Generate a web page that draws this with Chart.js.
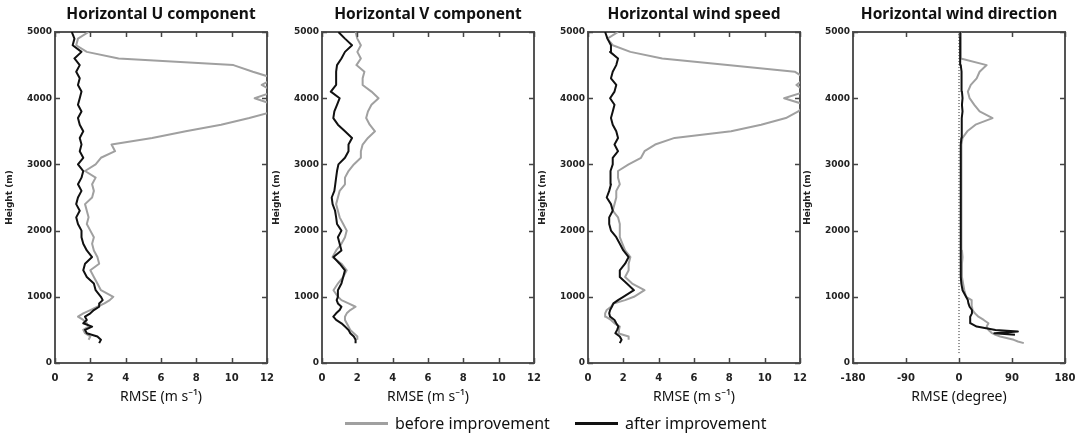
<!DOCTYPE html>
<html>
<head>
<meta charset="utf-8">
<script src="https://cdn.jsdelivr.net/npm/chart.js@4.4.0/dist/chart.umd.min.js"></script>
<style>
  html, body { margin: 0; padding: 0; background: #fff; overflow: hidden; }
  #wrap { position: relative; width: 1079px; height: 436px; overflow: hidden; }
  #wrap canvas { position: absolute; top: 0; }
  .leg { position: absolute; top: 412px; font: 16px "Noto Sans", sans-serif; color: #111; white-space: nowrap; line-height: 22px; }
  .leg .sw { display: inline-block; width: 43px; height: 3px; vertical-align: middle; margin-right: 7px; position: relative; top: -1px; }
</style>
</head>
<body>
<div id="wrap">
  <canvas id="c0" width="322" height="410" style="left:0px"></canvas>
  <canvas id="c1" width="322" height="410" style="left:267px"></canvas>
  <canvas id="c2" width="322" height="410" style="left:533px"></canvas>
  <canvas id="c3" width="322" height="410" style="left:798px"></canvas>
  <div class="leg" style="left:345px"><span class="sw" style="background:#a0a0a0"></span>before improvement</div>
  <div class="leg" style="left:575px"><span class="sw" style="background:#111"></span>after improvement</div>
</div>
<script>
// heights (m), finer steps near the ground
const heights = [300, 350, 400, 450, 500, 550, 600, 650, 700, 750, 800, 850, 900, 950,
  1000, 1100, 1200, 1300, 1400, 1500, 1600, 1700, 1800, 1900,
  2000, 2100, 2200, 2300, 2400, 2500, 2600, 2700, 2800, 2900,
  3000, 3100, 3200, 3300, 3400, 3500, 3600, 3700, 3800, 3900,
  4000, 4100, 4200, 4300, 4400, 4500, 4600, 4700, 4800, 4900, 5000];

// Horizontal U component RMSE (m/s)
const uBefore = [null, 1.9, 2.0, 1.7, 1.6, 1.9, 1.8, 1.6, 1.3, 1.6, 2.0, 2.4, 2.8, 3.1,
  3.3, 2.6, 2.4, 2.2, 2.0, 2.5, 2.4, 2.2, 2.1, 2.2,
  2.0, 1.8, 1.9, 1.8, 1.7, 2.1, 2.2, 2.1, 2.3, 1.7,
  2.3, 2.6, 3.4, 3.2, 5.5, 7.4, 9.4, 11.0, 12.4, 12.4,
  11.3, 12.4, 11.7, 12.4, 11.2, 10.1, 3.6, 1.8, 1.2, 1.3, 1.9];
const uAfter = [2.5, 2.6, 2.4, 1.8, 1.7, 2.1, 1.6, 1.8, 1.7, 2.0, 2.2, 2.5, 2.5, 2.7,
  2.6, 2.3, 2.2, 1.8, 1.6, 1.7, 2.1, 1.8, 1.6, 1.5,
  1.5, 1.3, 1.2, 1.4, 1.2, 1.3, 1.5, 1.3, 1.5, 1.6,
  1.3, 1.6, 1.4, 1.5, 1.4, 1.6, 1.4, 1.3, 1.5, 1.3,
  1.4, 1.5, 1.3, 1.4, 1.2, 1.4, 1.1, 1.5, 1.0, 1.1, 0.95];

// Horizontal V component RMSE (m/s)
const vBefore = [null, 2.0, 2.0, 1.8, 1.6, 1.5, 1.4, 1.3, 1.3, 1.4, 1.6, 1.9, 1.5, 1.1,
  0.9, 0.65, 0.9, 1.2, 1.4, 1.1, 0.6, 0.8, 1.1, 1.3,
  1.4, 1.2, 1.0, 0.9, 0.8, 0.9, 1.0, 1.3, 1.3, 1.5,
  1.8, 2.2, 2.2, 2.3, 2.6, 3.0, 2.7, 2.5, 2.6, 2.8,
  3.2, 2.8, 2.3, 2.3, 2.4, 1.95, 2.2, 2.0, 2.2, 2.0, 1.9];
const vAfter = [1.9, 1.9, 1.8, 1.6, 1.5, 1.3, 1.1, 0.8, 0.64, 0.8, 1.0, 1.1, 0.9, 0.83,
  0.9, 0.9, 1.1, 1.2, 1.3, 1.0, 0.65, 1.1, 1.0, 0.9,
  1.1, 0.85, 0.8, 0.74, 0.6, 0.55, 0.7, 0.75, 0.8, 0.85,
  0.93, 1.3, 1.5, 1.5, 1.7, 1.3, 0.9, 0.64, 0.7, 0.85,
  1.0, 0.5, 0.8, 0.8, 0.8, 0.85, 1.1, 1.3, 1.7, 1.3, 0.93];

// Horizontal wind speed RMSE (m/s)
const speedBefore = [null, 2.3, 2.3, 1.7, 1.75, 1.8, 1.5, 1.3, 1.0, 0.97, 1.06, 1.3, 1.44, 2.1,
  2.6, 3.2, 2.5, 2.1, 2.3, 2.3, 2.4, 2.1, 1.95, 1.8,
  1.8, 1.8, 1.7, 1.4, 1.5, 1.6, 1.6, 1.8, 1.7, 1.7,
  2.3, 3.0, 3.2, 3.8, 4.9, 8.1, 9.8, 11.2, 11.9, 12.3,
  11.1, 12.3, 11.8, 12.3, 11.7, 7.9, 4.2, 2.4, 1.4, 1.1, 1.7];
const speedAfter = [1.8, 1.9, 1.8, 1.55, 1.65, 1.72, 1.6, 1.5, 1.25, 1.2, 1.25, 1.35, 1.44, 1.7,
  2.0, 2.6, 2.2, 1.8, 1.8, 2.1, 2.3, 2.0, 1.8, 1.6,
  1.3, 1.2, 1.2, 1.4, 1.3, 1.06, 1.2, 1.3, 1.3, 1.25,
  1.4, 1.4, 1.7, 1.5, 1.7, 1.6, 1.4, 1.3, 1.4, 1.5,
  1.25, 1.5, 1.6, 1.3, 1.4, 1.6, 1.7, 1.25, 1.3, 1.1, 0.97];

// Horizontal wind direction RMSE (degree), own heights for the low-level detail
const dirHeights = [300, 325, 350, 400, 425, 450, 475, 500, 550, 600, 650, 700, 750, 800, 850, 900, 950,
  1000, 1100, 1200, 1300, 1400, 1500, 1600, 1700, 1800, 1900,
  2000, 2100, 2200, 2300, 2400, 2500, 2600, 2700, 2800, 2900,
  3000, 3100, 3200, 3300, 3400, 3500, 3600, 3700, 3800, 3900,
  4000, 4100, 4200, 4300, 4400, 4500, 4600, 4700, 4800, 4900, 5000];
const dirBefore = [110, 100, 93, 70, 62, 56, 53, 50, 47, 50, 42, 33, 27, 23, 22, 21, 22,
  12, 9, 7, 5, 5, 5, 6, 5, 4, 5,
  5, 4, 4, 4, 4, 4, 4, 4, 4, 4,
  4, 4, 4, 4, 6, 14, 28, 57, 35, 26,
  18, 15, 20, 30, 35, 47, 3, 3, 3, 3, 3];
const dirAfter = [null, null, null, null, 95, 60, 100, 62, 30, 20, 19, 19, 22, 22, 18, 16, 15,
  12, 6, 4, 3, 3, 3, 3, 3, 3, 3,
  3, 3, 3, 3, 3, 3, 3, 3, 3, 3,
  3, 3, 3, 3, 4, 5, 4, 5, 6, 5,
  6, 5, 4, 5, 4, 3, 2, 2, 2, 2, 2];
const zeroLineX = [0, 0];
const zeroLineH = [150, 5000];

const titles = ['Horizontal U component', 'Horizontal V component', 'Horizontal wind speed', 'Horizontal wind direction'];
const xTitles = ['RMSE (m s\u207B\u00B9)', 'RMSE (m s\u207B\u00B9)', 'RMSE (m s\u207B\u00B9)', 'RMSE (degree)'];
const xRanges = [[0, 12, 2], [0, 12, 2], [0, 12, 2], [-180, 180, 90]];

const GRAY = '#a0a0a0';
const BLACK = '#111111';
const FRAME = '#555555';

function toPoints(hs, xs) {
  const pts = [];
  hs.forEach((h, i) => { if (xs[i] !== null) pts.push({ x: xs[i], y: h }); });
  return pts;
}

function line(points, color, order, extra) {
  return Object.assign({
    data: points, showLine: true, borderColor: color, backgroundColor: color,
    borderWidth: 2, pointRadius: 0, tension: 0, clip: 0, order: order,
    borderJoinStyle: 'round', xAxisID: 'x', yAxisID: 'y'
  }, extra || {});
}

// short tick marks pointing into the plot on all four sides, taken from the scales' own ticks
const inwardTicks = {
  id: 'inwardTicks',
  afterDatasetsDraw(chart) {
    const { ctx, chartArea: a } = chart;
    const x = chart.scales.x, y = chart.scales.y;
    const len = 5;
    ctx.save();
    ctx.strokeStyle = '#444';
    ctx.lineWidth = 1.5;
    ctx.beginPath();
    x.ticks.forEach(t => {
      const px = Math.round(x.getPixelForValue(t.value)) + 0.5;
      ctx.moveTo(px, a.bottom); ctx.lineTo(px, a.bottom - len);
      ctx.moveTo(px, a.top); ctx.lineTo(px, a.top + len);
    });
    y.ticks.forEach(t => {
      const py = Math.round(y.getPixelForValue(t.value)) + 0.5;
      ctx.moveTo(a.left, py); ctx.lineTo(a.left + len, py);
      ctx.moveTo(a.right, py); ctx.lineTo(a.right - len, py);
    });
    ctx.stroke();
    ctx.restore();
  }
};

const noGrid = { drawOnChartArea: false, drawTicks: false };
const frameBorder = { display: true, color: FRAME, width: 2 };
const plainNumber = v => String(v);

const panelData = [
  [heights, uBefore, uAfter],
  [heights, vBefore, vAfter],
  [heights, speedBefore, speedAfter],
  [dirHeights, dirBefore, dirAfter]
];

panelData.forEach((p, i) => {
  const [hs, before, after] = p;
  const [xmin, xmax, xstep] = xRanges[i];
  const datasets = [
    line(toPoints(hs, after), BLACK, 1),
    line(toPoints(hs, before), GRAY, 2)
  ];
  if (i === 3) {
    datasets.push(line(toPoints(zeroLineH, zeroLineX), '#222', 3, { borderWidth: 1, borderDash: [1, 2] }));
  }
  new Chart(document.getElementById('c' + i), {
    type: 'scatter',
    data: { datasets },
    plugins: [inwardTicks],
    options: {
      responsive: false,
      animation: false,
      layout: { padding: 0 },
      plugins: {
        legend: { display: false },
        tooltip: { enabled: false },
        title: {
          display: true, text: titles[i], color: '#111',
          font: { family: 'Noto Sans', size: 15.5, weight: 'bold', lineHeight: 1.2 },
          padding: { top: 5, bottom: 8.4 }
        }
      },
      scales: {
        x: {
          type: 'linear', position: 'bottom', min: xmin, max: xmax,
          ticks: { stepSize: xstep, padding: 9, color: '#222', callback: plainNumber,
                   font: { family: 'DejaVu Sans', size: 10, weight: 'bold' } },
          grid: noGrid,
          border: frameBorder,
          title: { display: true, text: xTitles[i], color: '#111', font: { family: 'Noto Sans', size: 14 }, padding: { top: 0, bottom: 5 } },
          afterFit: s => { s.height = 47; }
        },
        xTop: {
          type: 'linear', axis: 'x', position: 'top', min: xmin, max: xmax,
          ticks: { stepSize: xstep, display: false },
          grid: noGrid,
          border: frameBorder,
          afterFit: s => { s.height = 0; }
        },
        y: {
          type: 'linear', position: 'left', min: 0, max: 5000,
          ticks: { stepSize: 1000, padding: 3, color: '#222', callback: plainNumber,
                   font: { family: 'DejaVu Sans', size: 9, weight: 'bold' } },
          grid: noGrid,
          border: frameBorder,
          title: { display: true, text: 'Height (m)', color: '#222', font: { family: 'DejaVu Sans', size: 9, weight: 'bold' }, padding: { top: 4, bottom: 0 } },
          afterFit: s => { s.width = 55; }
        },
        yRight: {
          type: 'linear', axis: 'y', position: 'right', min: 0, max: 5000,
          ticks: { stepSize: 1000, display: false },
          grid: noGrid,
          border: frameBorder,
          afterFit: s => { s.width = 55; }
        }
      }
    }
  });
});
</script>
</body>
</html>
